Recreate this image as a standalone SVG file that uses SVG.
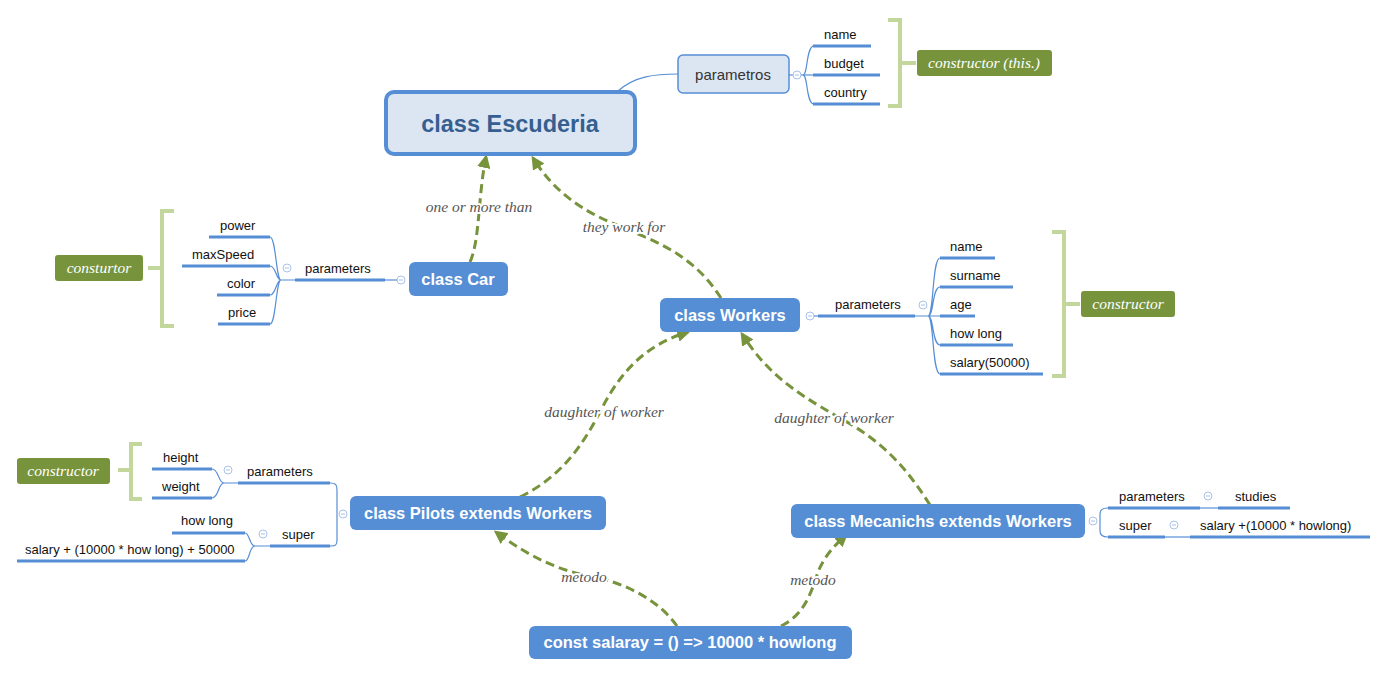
<svg xmlns="http://www.w3.org/2000/svg" width="1383" height="676" viewBox="0 0 1383 676">
<defs>
<marker id="arr" viewBox="0 0 10 10" refX="8" refY="5" markerWidth="4.5" markerHeight="4.5" orient="auto" markerUnits="strokeWidth">
<path d="M0,0 L10,5 L0,10 z" fill="#77933c"/>
</marker>
<style>
.bg{fill:#fff}
.main{fill:#558ed5;}
.mt{font-family:"Liberation Sans",Arial,sans-serif;font-weight:bold;font-size:16.5px;fill:#fff;text-anchor:middle}
.leaf{font-family:"Liberation Sans",Arial,sans-serif;font-size:13px;fill:#111}
.ul{stroke:#558ed5;stroke-width:3;fill:none}
.br{stroke:#558ed5;stroke-width:1.2;fill:none}
.col{fill:#fff;stroke:#a9c2ea;stroke-width:1}
.colm{stroke:#a9c2ea;stroke-width:1}
.gbr{stroke:#c3d69b;stroke-width:4;fill:none}
.gbox{fill:#77933c}
.gt{font-family:"Liberation Serif","Times New Roman",serif;font-style:italic;font-size:15.5px;fill:#fff;text-anchor:middle}
.edge{stroke:#77933c;stroke-width:3;fill:none;stroke-dasharray:9 5;marker-end:url(#arr)}
.el{font-family:"Liberation Serif","Times New Roman",serif;font-style:italic;font-size:15.5px;fill:#555;text-anchor:middle;stroke:#fff;stroke-width:4;paint-order:stroke;stroke-linejoin:round}
</style>
</defs>
<rect class="bg" x="0" y="0" width="1383" height="676"/>

<g id="connectors">
<path class="edge" d="M470,262 C480,240 478,195 486,157"/>
<path class="edge" d="M721,298 C690,250 650,240 610,222 C570,205 548,182 533,158"/>
<path class="edge" d="M520,497 C565,475 585,440 600,412 C620,372 645,345 688,332"/>
<path class="edge" d="M930,505 C905,465 880,440 840,418 C790,390 765,370 742,334"/>
<path class="edge" d="M677,626 C655,595 615,580 585,575 C550,568 520,550 496,532"/>
<path class="edge" d="M781,626 C805,615 812,590 818,572 C825,555 835,545 846,535"/>
<text class="el" x="479" y="212">one or more than</text>
<text class="el" x="624" y="232">they work for</text>
<text class="el" x="604" y="417">daughter of worker</text>
<text class="el" x="834" y="423">daughter of worker</text>
<text class="el" x="584" y="582">metodo</text>
<text class="el" x="813" y="585">metodo</text>
</g>

<g id="escuderia">
<path d="M618,91 C635,76 655,74 678,74" stroke="#558ed5" stroke-width="1.2" fill="none"/>
<rect x="386" y="92" width="249" height="62" rx="8" fill="#dce6f2" stroke="#558ed5" stroke-width="4"/>
<text x="510" y="132" font-family="Liberation Sans,Arial,sans-serif" font-weight="bold" font-size="23.5" fill="#365f91" text-anchor="middle">class Escuderia</text>
</g>

<g id="parametros">
<rect x="678" y="55" width="111" height="38" rx="5" fill="#dce6f2" stroke="#558ed5" stroke-width="1.5"/>
<text x="733" y="80" font-family="Liberation Sans,Arial,sans-serif" font-size="15" fill="#333" text-anchor="middle">parametros</text>
<line x1="789" y1="75" x2="813" y2="75" class="br"/>
<path class="br" d="M803,75 C808,75 806,46 814,46 M803,75 C808,75 806,104 814,104"/>
<circle class="col" cx="797" cy="75" r="4"/><line class="colm" x1="795" y1="75" x2="799" y2="75"/>
<line class="ul" x1="813" y1="46" x2="871" y2="46"/><text class="leaf" x="824" y="39">name</text>
<line class="ul" x1="813" y1="75" x2="880" y2="75"/><text class="leaf" x="824" y="68">budget</text>
<line class="ul" x1="813" y1="104" x2="880" y2="104"/><text class="leaf" x="824" y="97">country</text>
<path class="gbr" d="M888,20 H900 V106 H888 M900,63 H916"/>
<rect class="gbox" x="917" y="50" width="135" height="26" rx="3"/>
<text class="gt" x="984" y="68">constructor (this.)</text>
</g>

<g id="car">
<rect class="main" x="409" y="262" width="99" height="34" rx="6"/>
<text class="mt" x="458" y="285">class Car</text>
<circle class="col" cx="401" cy="280" r="4"/><line class="colm" x1="399" y1="280" x2="403" y2="280"/>
<line class="ul" x1="295" y1="280" x2="385" y2="280"/><line x1="385" y1="280" x2="397" y2="280" class="br"/>
<text class="leaf" x="305" y="273">parameters</text>
<circle class="col" cx="287" cy="268" r="4"/><line class="colm" x1="285" y1="268" x2="289" y2="268"/>
<path class="br" d="M295,280 H281 C276,280 276,237 270,237 M281,280 C276,280 276,266 270,266 M281,280 C276,280 276,295 270,295 M281,280 C276,280 276,324 270,324"/>
<line class="ul" x1="209" y1="237" x2="270" y2="237"/><text class="leaf" x="220" y="230">power</text>
<line class="ul" x1="182" y1="266" x2="270" y2="266"/><text class="leaf" x="192" y="259">maxSpeed</text>
<line class="ul" x1="217" y1="295" x2="270" y2="295"/><text class="leaf" x="227" y="288">color</text>
<line class="ul" x1="218" y1="324" x2="270" y2="324"/><text class="leaf" x="228" y="317">price</text>
<path class="gbr" d="M174,211 H162 V326 H174 M162,268 H148"/>
<rect class="gbox" x="55" y="255" width="88" height="26" rx="3"/>
<text class="gt" x="99" y="273">consturtor</text>
</g>

<g id="workers">
<rect class="main" x="660" y="298" width="140" height="34" rx="6"/>
<text class="mt" x="730" y="321">class Workers</text>
<circle class="col" cx="810" cy="316" r="4"/><line class="colm" x1="808" y1="316" x2="812" y2="316"/>
<line x1="814" y1="316" x2="820" y2="316" class="br"/>
<line class="ul" x1="818" y1="316" x2="915" y2="316"/>
<text class="leaf" x="835" y="309">parameters</text>
<circle class="col" cx="923" cy="305" r="4"/><line class="colm" x1="921" y1="305" x2="925" y2="305"/>
<path class="br" d="M915,316 H940 M928,316 C934,316 932,258 940,258 M928,316 C934,316 932,287 940,287 M928,316 C934,316 932,345 940,345 M928,316 C934,316 932,374 940,374"/>
<line class="ul" x1="940" y1="258" x2="995" y2="258"/><text class="leaf" x="950" y="251">name</text>
<line class="ul" x1="940" y1="287" x2="1013" y2="287"/><text class="leaf" x="950" y="280">surname</text>
<line class="ul" x1="940" y1="316" x2="975" y2="316"/><text class="leaf" x="950" y="309">age</text>
<line class="ul" x1="940" y1="345" x2="1013" y2="345"/><text class="leaf" x="950" y="338">how long</text>
<line class="ul" x1="940" y1="374" x2="1043" y2="374"/><text class="leaf" x="950" y="367">salary(50000)</text>
<path class="gbr" d="M1052,232 H1064 V376 H1052 M1064,304 H1080"/>
<rect class="gbox" x="1081" y="291" width="94" height="26" rx="3"/>
<text class="gt" x="1128" y="309">constructor</text>
</g>

<g id="pilots">
<rect class="main" x="350" y="496" width="256" height="34" rx="6"/>
<text class="mt" x="478" y="519">class Pilots extends Workers</text>
<circle class="col" cx="343" cy="514" r="4"/><line class="colm" x1="341" y1="514" x2="345" y2="514"/>
<path class="br" d="M330,483 C336,483 337,485 337,490 V540 C337,545 336,546 330,546"/>
<line class="ul" x1="238" y1="483" x2="330" y2="483"/><text class="leaf" x="247" y="476">parameters</text>
<line class="ul" x1="270" y1="546" x2="330" y2="546"/><text class="leaf" x="282" y="539">super</text>
<circle class="col" cx="228" cy="470" r="4"/><line class="colm" x1="226" y1="470" x2="230" y2="470"/>
<path class="br" d="M238,483 H224 C218,483 219,469 212,469 M224,483 C218,483 219,498 212,498"/>
<line class="ul" x1="152" y1="469" x2="212" y2="469"/><text class="leaf" x="163" y="462">height</text>
<line class="ul" x1="152" y1="498" x2="212" y2="498"/><text class="leaf" x="162" y="491">weight</text>
<circle class="col" cx="263" cy="534" r="4"/><line class="colm" x1="261" y1="534" x2="265" y2="534"/>
<path class="br" d="M270,546 H255 C249,546 250,533 245,533 M255,546 C249,546 250,561 245,561"/>
<line class="ul" x1="172" y1="533" x2="245" y2="533"/><text class="leaf" x="181" y="525">how long</text>
<line class="ul" x1="17" y1="561" x2="245" y2="561"/><text class="leaf" x="25" y="554">salary + (10000 * how long) + 50000</text>
<path class="gbr" d="M142,444 H131 V499 H142 M131,470 H118"/>
<rect class="gbox" x="17" y="458" width="93" height="26" rx="3"/>
<text class="gt" x="63" y="476">constructor</text>
</g>

<g id="mecanichs">
<rect class="main" x="791" y="504" width="294" height="34" rx="6"/>
<text class="mt" x="938" y="527">class Mecanichs extends Workers</text>
<circle class="col" cx="1093" cy="521" r="4"/><line class="colm" x1="1091" y1="521" x2="1095" y2="521"/>
<path class="br" d="M1108,508 C1102,508 1100,510 1100,514 V531 C1100,535 1102,537 1108,537"/>
<line class="ul" x1="1108" y1="508" x2="1200" y2="508"/><text class="leaf" x="1119" y="501">parameters</text>
<circle class="col" cx="1208" cy="496" r="4"/><line class="colm" x1="1206" y1="496" x2="1210" y2="496"/>
<line class="br" x1="1200" y1="508" x2="1218" y2="508"/>
<line class="ul" x1="1218" y1="508" x2="1290" y2="508"/><text class="leaf" x="1235" y="501">studies</text>
<line class="ul" x1="1108" y1="537" x2="1165" y2="537"/><text class="leaf" x="1119" y="530">super</text>
<circle class="col" cx="1174" cy="525" r="4"/><line class="colm" x1="1172" y1="525" x2="1176" y2="525"/>
<line class="br" x1="1165" y1="537" x2="1190" y2="537"/>
<line class="ul" x1="1190" y1="537" x2="1370" y2="537"/><text class="leaf" x="1200" y="530">salary +(10000 * howlong)</text>
</g>

<g id="salaray">
<rect class="main" x="529" y="626" width="323" height="33" rx="6"/>
<text class="mt" x="690" y="648">const salaray = () =&gt; 10000 * howlong</text>
</g>
</svg>
